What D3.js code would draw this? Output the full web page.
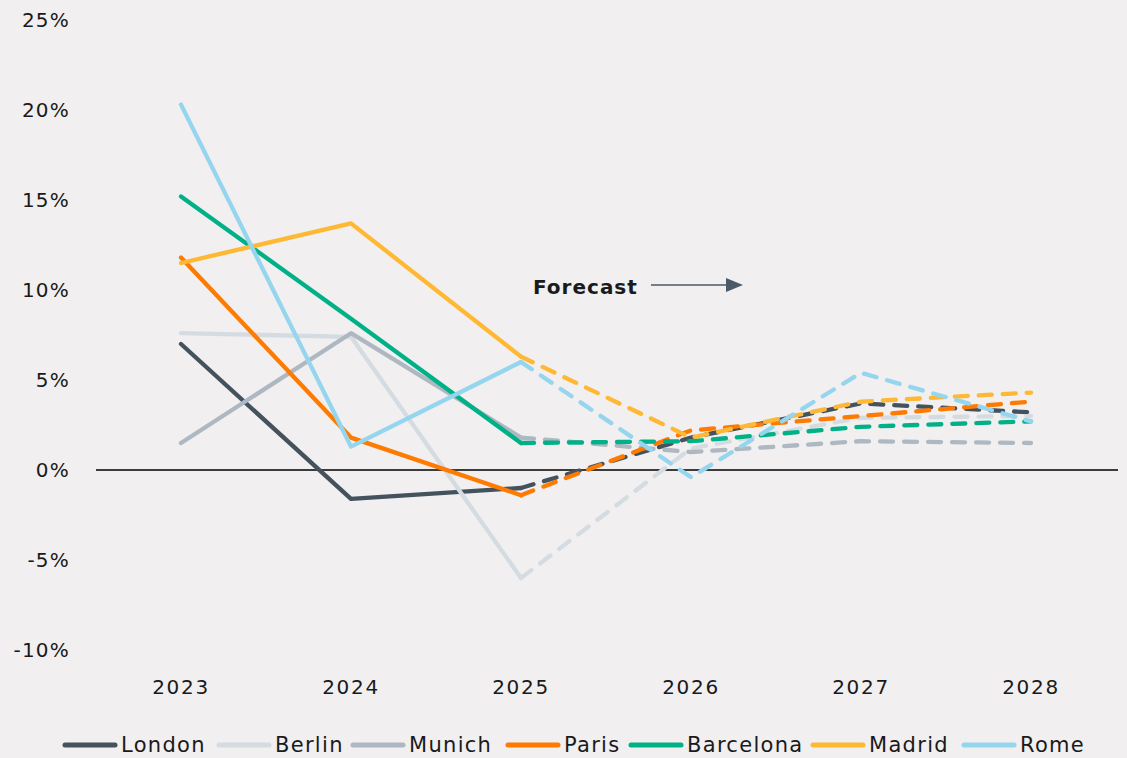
<!DOCTYPE html>
<html><head><meta charset="utf-8">
<script src="https://cdn.jsdelivr.net/npm/d3@7"></script>
<style>
body{margin:0;background:#f1eff0;}
text{font-family:"DejaVu Sans",sans-serif;fill:#1a1a1a;}
</style></head>
<body><svg id="c" width="1127" height="758"></svg>
<script>
const years = ["2023","2024","2025","2026","2027","2028"];
const yTicks = [-10,-5,0,5,10,15,20,25];
const cities = ["London","Berlin","Munich","Paris","Barcelona","Madrid","Rome"];
const colors = ["#44525e","#d5dce1","#aeb8c2","#ff7a00","#00b086","#ffb833","#95d5ee"];
const london    = [7.0,-1.6,-1.0,1.8,3.7,3.2];
const berlin    = [7.6,7.4,-6.0,1.2,2.9,3.0];
const munich    = [1.5,7.6,1.8,1.0,1.6,1.5];
const paris     = [11.8,1.8,-1.4,2.2,3.0,3.8];
const barcelona = [15.2,8.4,1.5,1.6,2.4,2.7];
const madrid    = [11.5,13.7,6.3,1.8,3.8,4.3];
const rome      = [20.3,1.3,6.0,-0.4,5.4,2.7];
const seriesValues = [london,berlin,munich,paris,barcelona,madrid,rome];
const forecastStart = 2; // index of 2025

const svg = d3.select("#c");
const x = d3.scalePoint().domain(years).range([96,1116]).padding(0.5);
const y = d3.scaleLinear().domain([-10,25]).range([650,20]);

// y tick labels
svg.append("g").selectAll("text").data(yTicks).join("text")
  .attr("x",70).attr("y",d=>y(d)).attr("dy","0.35em")
  .attr("text-anchor","end").style("font-size","20px").style("letter-spacing","1.2px")
  .text(d=>d+"%");

// x tick labels
svg.append("g").selectAll("text").data(years).join("text")
  .attr("x",d=>x(d)).attr("y",687).attr("dy","0.35em")
  .attr("text-anchor","middle").style("font-size","20px").style("letter-spacing","1.7px")
  .text(d=>d);

// zero line
svg.append("line").attr("x1",96).attr("x2",1118).attr("y1",y(0)).attr("y2",y(0))
  .attr("stroke","#000").attr("stroke-width",1.5);

const line = d3.line().x(d=>x(d.year)).y(d=>y(d.v));
const gLines = svg.append("g");
seriesValues.forEach((vals,i)=>{
  const pts = vals.map((v,j)=>({year:years[j],v}));
  gLines.append("path").attr("d",line(pts.slice(0,forecastStart+1)))
    .attr("fill","none").attr("stroke",colors[i]).attr("stroke-width",4.3)
    .attr("stroke-linecap","round").attr("stroke-linejoin","round");
});
seriesValues.forEach((vals,i)=>{
  const pts = vals.map((v,j)=>({year:years[j],v}));
  gLines.append("path").attr("d",line(pts.slice(forecastStart)))
    .attr("fill","none").attr("stroke",colors[i]).attr("stroke-width",4.3)
    .attr("stroke-linecap","round").attr("stroke-linejoin","round")
    .attr("stroke-dasharray","13 11");
});

// Forecast annotation
svg.append("text").attr("x",533).attr("y",287).attr("dy","0.35em")
  .style("font-size","20px").style("font-weight","bold").style("letter-spacing","1px")
  .text("Forecast");
svg.append("line").attr("x1",651).attr("x2",728).attr("y1",285).attr("y2",285)
  .attr("stroke","#4a5a68").attr("stroke-width",1.5);
svg.append("path").attr("d","M726,278 L743,285 L726,292 Z").attr("fill","#4a5a68");

// legend
const legendX = [63,217,351,506,629,811,962];
const lg = svg.append("g");
cities.forEach((c,i)=>{
  lg.append("line").attr("x1",legendX[i]+2).attr("x2",legendX[i]+52).attr("y1",745).attr("y2",745)
    .attr("stroke",colors[i]).attr("stroke-width",5).attr("stroke-linecap","round");
  lg.append("text").attr("x",legendX[i]+58).attr("y",745).attr("dy","0.35em")
    .style("font-size","21px").style("letter-spacing","1.3px").text(c);
});
</script></body></html>
